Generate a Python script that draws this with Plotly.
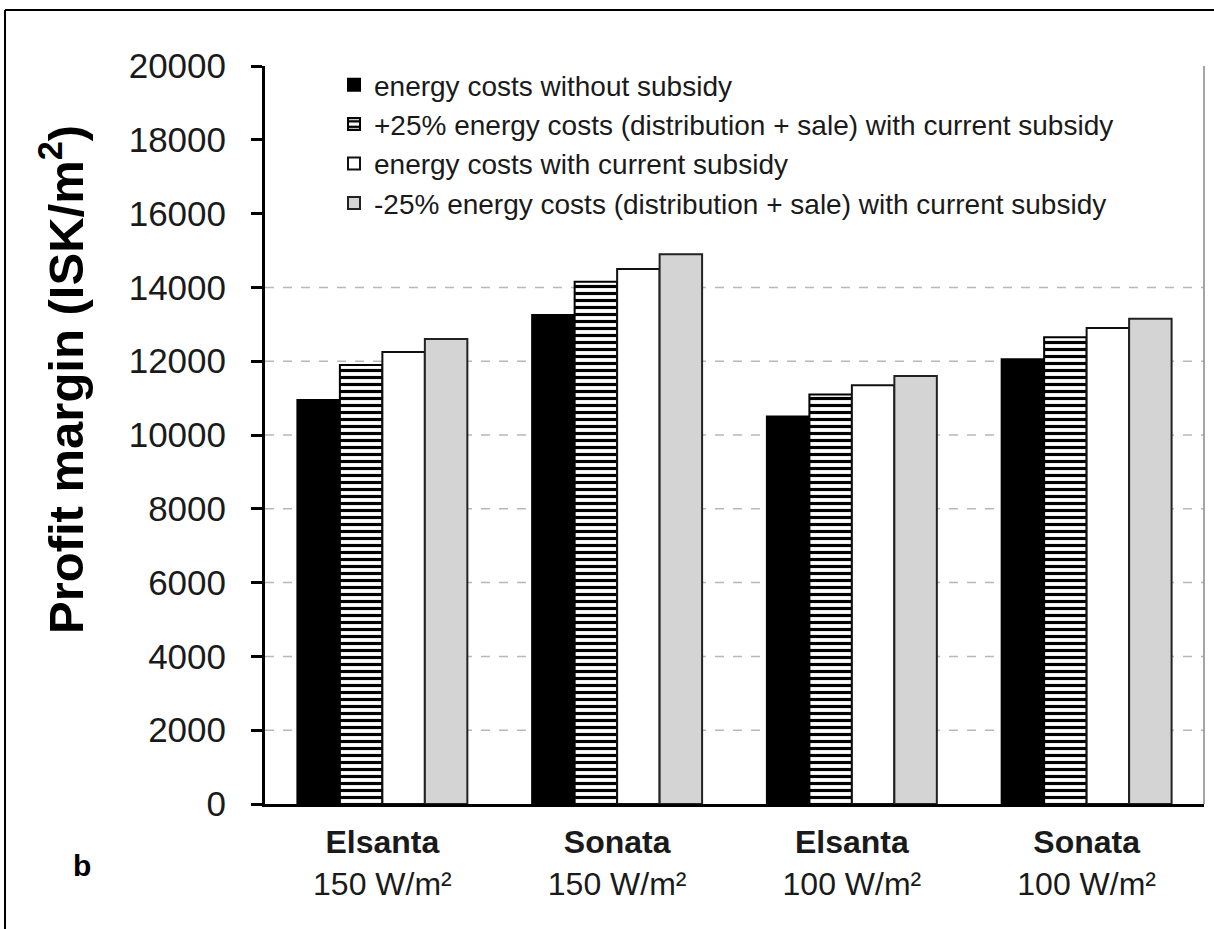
import plotly.graph_objects as go

# ---- data ----
categories = ["<b>Elsanta</b><br>150 W/m²", "<b>Sonata</b><br>150 W/m²",
              "<b>Elsanta</b><br>100 W/m²", "<b>Sonata</b><br>100 W/m²"]
series_names = [
    "energy costs without subsidy",
    "+25% energy costs (distribution + sale) with current subsidy",
    "energy costs with current subsidy",
    "-25% energy costs (distribution + sale) with current subsidy",
]
no_subsidy = [10950, 13250, 10500, 12050]
plus25 = [11900, 14150, 11100, 12650]
current = [12250, 14500, 11350, 12900]
minus25 = [12600, 14900, 11600, 13150]
y_ticks = [0, 2000, 4000, 6000, 8000, 10000, 12000, 14000, 16000, 18000, 20000]
y_tick_text = [str(v) for v in y_ticks]
grid_values = [2000, 4000, 6000, 8000, 10000, 12000, 14000]

W, H = 1214, 929
ML, MR, MT, MB = 265, 10, 66, 125
PW, PH = W - ML - MR, H - MT - MB


def px_x(p):
    return (p - ML) / PW


def px_y(p):
    return (H - MB - p) / PH


fig = go.Figure()
fig.add_trace(go.Bar(x=categories, y=no_subsidy, name=series_names[0], legendgroup="a",
                     marker=dict(color="black", line=dict(color="black", width=2))))
fig.add_trace(go.Bar(x=categories, y=plus25, name=series_names[1], legendgroup="b",
                     marker=dict(color="white", line=dict(color="black", width=2),
                                 pattern=dict(shape="-", fgcolor="black", bgcolor="white",
                                              size=7, solidity=0.45, fillmode="replace"))))
fig.add_trace(go.Bar(x=categories, y=current, name=series_names[2], legendgroup="c",
                     marker=dict(color="white", line=dict(color="#111111", width=2))))
fig.add_trace(go.Bar(x=categories, y=minus25, name=series_names[3], legendgroup="d",
                     marker=dict(color="#d4d4d4", line=dict(color="#222222", width=2))))

for v in grid_values:
    fig.add_hline(y=v, line=dict(color="#b8b8b8", width=1.5, dash="dash"), layer="below")

shapes = [
    # right plot border
    dict(type="line", xref="paper", yref="paper", x0=1, x1=1, y0=0, y1=1,
         line=dict(color="#888888", width=1.5)),
    # outer frame (left and top)
    dict(type="line", xref="paper", yref="paper", x0=px_x(5), x1=px_x(5), y0=px_y(10), y1=px_y(940),
         line=dict(color="black", width=2)),
    dict(type="line", xref="paper", yref="paper", x0=px_x(5), x1=px_x(1230), y0=px_y(10), y1=px_y(10),
         line=dict(color="black", width=2)),
]
for s in shapes:
    fig.add_shape(**s)

fig.add_annotation(text="<b>Profit margin (ISK/m<sup>2</sup>)</b>", textangle=-90,
                   xref="paper", yref="paper", x=px_x(62), y=px_y(380),
                   xanchor="center", yanchor="middle", showarrow=False,
                   font=dict(family="Arial, Liberation Sans", size=49, color="black"))
fig.add_annotation(text="<b>b</b>", xref="paper", yref="paper", x=px_x(82), y=px_y(866),
                   xanchor="center", yanchor="middle", showarrow=False,
                   font=dict(family="Arial, Liberation Sans", size=30, color="black"))

fig.update_layout(
    width=W, height=H,
    margin=dict(l=ML, r=MR, t=MT, b=MB, pad=0),
    paper_bgcolor="white", plot_bgcolor="white",
    barmode="group", bargap=0.276, bargroupgap=0,
    font=dict(family="Arial, Liberation Sans", color="black"),
    showlegend=True,
    legend=dict(x=px_x(334), y=px_y(60), xanchor="left", yanchor="top",
                bgcolor="rgba(255,255,255,0)", font=dict(size=28, color="#1a1a1a"),
                traceorder="normal", itemwidth=30, tracegroupgap=9),
)
fig.update_yaxes(range=[0, 20000], tickvals=y_ticks, ticktext=y_tick_text,
                 showgrid=False, zeroline=False,
                 showline=True, linecolor="black", linewidth=3,
                 ticks="outside", ticklen=11, tickwidth=3, tickcolor="black",
                 tickfont=dict(size=35, color="#1a1a1a"), ticklabelstandoff=18)
fig.update_xaxes(showgrid=False, showline=True, linecolor="black", linewidth=3,
                 ticks="", tickfont=dict(size=32, color="#1a1a1a"), ticklabelstandoff=8)

fig.write_html("out.html", config={"displayModeBar": False},
               post_script="document.body.style.margin='0';")
